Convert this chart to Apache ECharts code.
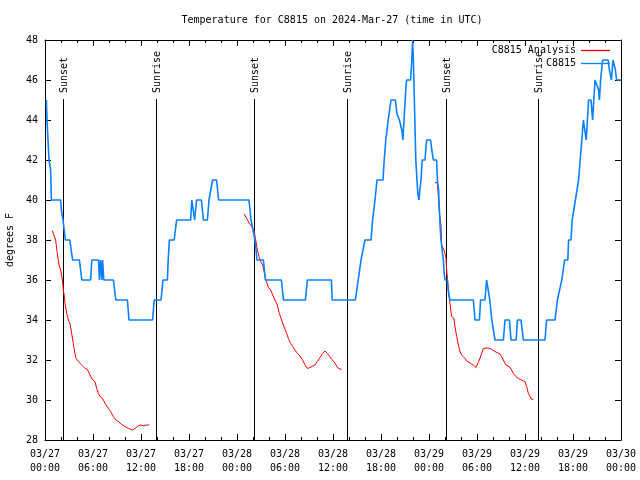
<!DOCTYPE html>
<html><head><meta charset="utf-8">
<script src="https://cdn.jsdelivr.net/npm/echarts@6/dist/echarts.min.js"></script>
<style>html,body{margin:0;padding:0;background:#fff}#chart{width:640px;height:480px}</style>
</head><body><div id="chart"></div>
<script>
// x values are hours since 2024-03-27 00:00 UTC
const titleText = 'Temperature for C8815 on 2024-Mar-27 (time in UTC)';
const tickLabels = ['03/27\n00:00','03/27\n06:00','03/27\n12:00','03/27\n18:00','03/28\n00:00','03/28\n06:00','03/28\n12:00','03/28\n18:00','03/29\n00:00','03/29\n06:00','03/29\n12:00','03/29\n18:00','03/30\n00:00'];
const sunEvents = ['Sunset','Sunrise','Sunset','Sunrise','Sunset','Sunrise'];
const sunHours = [2.29, 13.84, 26.16, 37.79, 50.13, 61.66];

const analysisNight1 = [[0.92,38.47],[1.17,38.47],[1.33,38.0],[1.54,37.33],[1.75,36.75],[1.96,36.5],[2.17,36.0],[2.29,35.5],[2.4,35.25],[2.5,34.83],[2.71,34.33],[2.92,34.0],[3.12,33.83],[3.33,33.33],[3.54,32.83],[3.75,32.33],[3.88,32.08],[4.17,31.92],[4.58,31.75],[5.0,31.58],[5.29,31.53],[5.62,31.25],[5.96,31.0],[6.25,30.92],[6.46,30.58],[6.67,30.33],[6.88,30.17],[7.21,30.08],[7.5,29.83],[7.92,29.58],[8.21,29.42],[8.54,29.17],[8.88,29.0],[9.17,28.92],[9.58,28.78],[10.0,28.67],[10.42,28.58],[10.62,28.5],[10.96,28.5],[11.25,28.58],[11.54,28.67],[11.88,28.75],[12.29,28.72],[12.71,28.75],[13.04,28.75]];
const analysisNight2 = [[24.88,39.3],[25.21,39.08],[25.54,38.83],[25.83,38.67],[26.12,38.5],[26.38,37.92],[26.54,37.5],[26.75,37.17],[26.96,36.92],[27.21,36.75],[27.38,36.42],[27.62,36.0],[27.92,35.63],[28.21,35.5],[28.46,35.25],[28.75,35.0],[29.04,34.75],[29.29,34.33],[29.58,34.0],[29.79,33.75],[30.0,33.67],[30.21,33.33],[30.42,33.08],[30.71,32.83],[30.96,32.67],[31.25,32.5],[31.54,32.33],[31.88,32.2],[32.2,32.0],[32.5,31.75],[32.79,31.58],[33.12,31.62],[33.46,31.7],[33.75,31.75],[34.04,31.92],[34.38,32.13],[34.71,32.33],[35.0,32.45],[35.29,32.33],[35.54,32.2],[35.83,32.03],[36.12,31.92],[36.38,31.75],[36.67,31.58],[37.08,31.53]];
const analysisNight3 = [[48.75,40.87],[49.04,40.87],[49.17,40.2],[49.29,39.42],[49.5,38.75],[49.58,37.75],[49.79,37.58],[50.0,37.33],[50.12,37.08],[50.21,36.5],[50.42,35.5],[50.62,34.83],[50.83,34.17],[51.12,34.08],[51.25,33.67],[51.46,33.17],[51.67,32.75],[51.88,32.42],[52.08,32.25],[52.29,32.17],[52.5,32.08],[52.71,31.95],[52.92,31.92],[53.2,31.83],[53.54,31.75],[53.88,31.63],[54.08,31.67],[54.29,32.0],[54.58,32.33],[54.79,32.58],[55.0,32.63],[55.29,32.6],[55.62,32.58],[55.96,32.5],[56.25,32.42],[56.54,32.37],[56.88,32.3],[57.08,32.17],[57.29,32.0],[57.62,31.75],[58.04,31.67],[58.33,31.5],[58.54,31.33],[58.88,31.17],[59.17,31.08],[59.58,31.0],[60.0,30.92],[60.21,30.67],[60.42,30.33],[60.62,30.17],[60.83,30.03],[61.04,30.03]];

const observed = [[0.17,45],[0.25,44],[0.4,44],[0.5,42],[0.6,42],[0.7,41.5],[0.8,40],
[1.95,40],[2.05,39.5],[2.25,39],[2.55,38],[2.75,37.9],[3.1,38],[3.25,38],[3.45,37],
[4.3,37],[4.45,36.5],[4.6,36],[5.7,36],[5.85,37],[6.7,37],[6.8,36],[6.95,37],[7.1,36],[7.2,37],[7.35,36],
[8.55,36],[8.85,35],[10.3,35],[10.5,34],[13.45,34],[13.65,35],[14.5,35],[14.75,36],[15.3,36],[15.4,37],[15.55,38],[16.15,38],[16.45,39],[18.2,39],[18.35,40],[18.55,40],[18.7,39],[18.95,40],[19.55,40],[19.8,39],[20.3,39],[20.5,40],[20.7,40],[20.95,41],[21.45,41],[21.7,40],
[25.5,40],[25.75,39],[25.95,39],[26.25,38],[26.5,37],[27.3,37],[27.55,36],[29.55,36],[29.8,35],[32.55,35],[32.8,36],[35.8,36],[35.9,35],[38.8,35],[39.15,36],[39.5,37],[40.0,38],[40.75,38],[40.95,39],[41.25,40],[41.5,41],[42.25,41],[42.4,42],[42.6,43],[42.9,44],[43.25,45],[43.8,45],[44.0,44.3],[44.3,44],[44.6,43.5],[44.75,43],[44.8,43.5],[44.95,44.5],[45.1,45.5],[45.2,46],[45.7,46],[45.85,47],[45.95,48],[46.05,47],[46.35,42],[46.6,40.3],[46.75,40],[46.85,40.5],[47.0,41],[47.15,42],[47.5,42],[47.7,43],[48.2,43],[48.35,42.5],[48.55,42],[48.95,42],[49.05,41],[49.2,40.5],[49.3,39.5],[49.4,38.6],[49.5,38],[49.7,37.3],[49.8,37],[49.9,36.3],[50.0,36],[50.3,36],[50.4,35.5],[50.6,35],
[53.55,35],[53.75,34],[54.3,34],[54.45,35],[55.0,35],[55.2,36],[55.4,36],[55.6,35],[55.85,34],[56.25,33],[57.3,33],[57.5,34],[58.05,34],[58.25,33],[58.9,33],[59.05,34],[59.5,34],[59.8,33],[62.5,33],[62.7,34],[63.75,34],[64.05,35],[64.3,35],[64.6,36],[64.8,36],[64.95,37],[65.35,37],[65.45,38],[65.75,38],[65.9,39],[66.1,39],[66.3,40],[66.55,40],[66.7,41],[66.9,42],[67.1,43],[67.3,44],[67.5,44],[67.65,43],[67.8,44],[67.95,45],[68.25,45],[68.45,44],[68.6,45],[68.75,46],[69.0,46],[69.2,45.5],[69.3,45],[69.45,46],[69.7,47],[70.4,47],[70.55,46.5],[70.8,46],[71.0,47],[71.15,47],[71.3,46.5],[71.45,46],[72,46]];

const FONT = "'DejaVu Sans Mono', monospace";
const RED = '#ff0000';
const BLUE = '#0a80ff';

function xAxisCfg(pos, labels) {
  return {
    type: 'value', min: 0, max: 72, interval: 6, position: pos,
    axisLine: { show: true, onZero: false, lineStyle: { color: '#000', width: 1 } },
    axisTick: { show: true, inside: true, length: 6, lineStyle: { color: '#000' } },
    minorTick: { show: true, splitNumber: 3, length: 3, lineStyle: { color: '#000' } },
    splitLine: { show: false }, minorSplitLine: { show: false },
    axisLabel: labels ? { show: true, formatter: v => tickLabels[Math.round(v / 6)], fontFamily: FONT, fontSize: 10, color: '#000', lineHeight: 14, margin: 7 } : { show: false }
  };
}
function yAxisCfg(pos, labels) {
  const c = {
    type: 'value', min: 28, max: 48, interval: 2, position: pos,
    axisLine: { show: true, onZero: false, lineStyle: { color: '#000', width: 1 } },
    axisTick: { show: true, inside: true, length: 6, lineStyle: { color: '#000' } },
    splitLine: { show: false },
    axisLabel: labels ? { show: true, fontFamily: FONT, fontSize: 10, color: '#000', margin: 7 } : { show: false }
  };
  if (labels) {
    c.name = 'degrees F'; c.nameLocation = 'middle'; c.nameRotate = 90; c.nameGap = 30;
    c.nameTextStyle = { fontFamily: FONT, fontSize: 10, color: '#000' };
  }
  return c;
}

const chart = echarts.init(document.getElementById('chart'), null, { renderer: 'canvas' });
const analysisSeries = [analysisNight1, analysisNight2, analysisNight3].map(d => ({
  name: 'C8815 Analysis', type: 'line', data: d, symbol: 'none', showSymbol: false,
  lineStyle: { color: RED, width: 1 }, itemStyle: { color: RED }, z: 3, animation: false
}));
chart.setOption({
  animation: false,
  backgroundColor: '#fff',
  title: { text: titleText, left: 332, top: 15, textAlign: 'center', padding: 0,
    textStyle: { fontFamily: FONT, fontSize: 10, fontWeight: 'normal', color: '#000' } },
  legend: {
    orient: 'vertical', right: 30, top: 44, align: 'right', itemWidth: 29, itemHeight: 1.3, itemGap: 0,
    icon: 'rect', padding: 0, selectedMode: false,
    textStyle: { fontFamily: FONT, fontSize: 10, color: '#000', lineHeight: 13 },
    data: ['C8815 Analysis', 'C8815']
  },
  grid: { left: 45, right: 19, top: 40, bottom: 40, containLabel: false, outerBoundsMode: 'none' },
  xAxis: [xAxisCfg('bottom', true), xAxisCfg('top', false)],
  yAxis: [yAxisCfg('left', true), yAxisCfg('right', false)],
  series: [
    {
      type: 'custom', name: 'sun', data: sunHours.map(h => [h, 28]), silent: true, z: 2,
      renderItem: function (params, api) {
        const p = api.coord([api.value(0), 28]);
        const x = Math.round(p[0]) + 0.5;
        const top = params.coordSys.y;
        return { type: 'group', children: [
          { type: 'line', shape: { x1: x, y1: top + 59, x2: x, y2: p[1] }, style: { stroke: '#000', lineWidth: 1 } },
          { type: 'text', x: x + 0.5, y: top + 53, rotation: Math.PI / 2,
            style: { text: sunEvents[params.dataIndex], font: "10px 'DejaVu Sans Mono', monospace", fill: '#000', align: 'left', verticalAlign: 'middle' } }
        ] };
      }
    },
    ...analysisSeries,
    { name: 'C8815', type: 'line', data: observed, symbol: 'none', showSymbol: false,
      lineStyle: { color: BLUE, width: 1.6 }, itemStyle: { color: BLUE }, z: 4, animation: false }
  ]
});
</script></body></html>
